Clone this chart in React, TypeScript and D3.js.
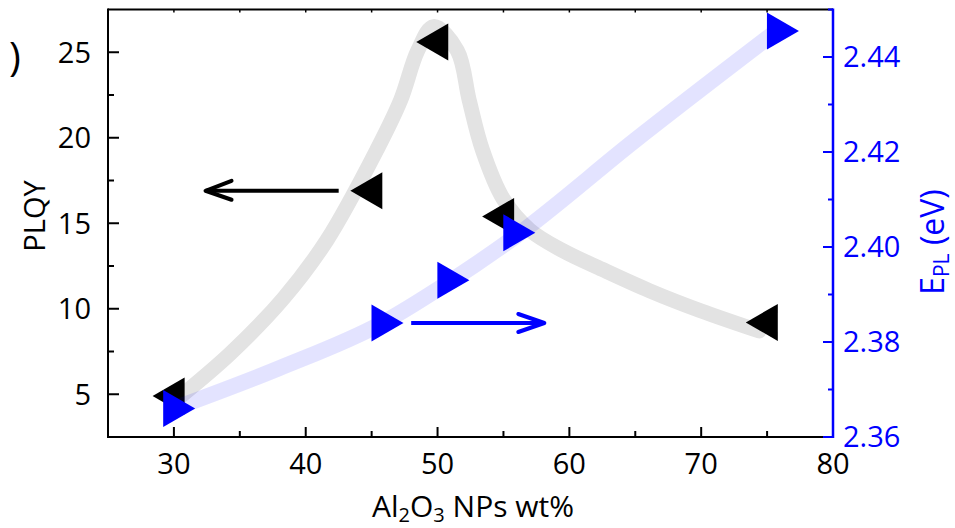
import React from 'react';
import * as d3 from 'd3';

// measured points
const wtPercent = [30, 45, 50, 55, 75];
const plqy = [4.9, 16.9, 25.6, 15.4, 9.2];
const eplWt = [30, 45.8, 50.8, 55.8, 75.8];
const epl = [2.366, 2.384, 2.393, 2.403, 2.4455];

// guide bands (hand-drawn in the original)
const plqyGuideX = [29.9, 34.3, 38.3, 41.6, 45.4, 47.2, 48.5, 49.7, 51.5, 52.4, 53.4, 55.0, 57.0, 59.5, 62.5, 66.1, 69.9, 74.4];
const plqyGuideY = [4.5, 7.4, 10.6, 14.0, 19.3, 22.2, 25.1, 26.5, 25.1, 22.2, 19.3, 16.4, 14.6, 13.4, 12.3, 11.05, 9.9, 8.7];
const eplGuideX = [30, 38, 45.8, 50.8, 55.8, 65, 75.5];
const eplGuideY = [2.366, 2.3745, 2.384, 2.3925, 2.402, 2.4225, 2.445];

const xTicks = [30, 40, 50, 60, 70, 80];
const xMinor = [35, 45, 55, 65, 75];
const xTop = [30, 35, 40, 45, 50, 55, 60, 65, 70, 75];
const yTicks = [5, 10, 15, 20, 25];
const yMinor = [7.5, 12.5, 17.5, 22.5];
const y2Ticks = [2.36, 2.38, 2.40, 2.42, 2.44];
const y2Minor = [2.37, 2.39, 2.41, 2.43];

const W = 955;
const H = 528;
const left = 108, right = 833, top = 9.5, bottom = 437;
const font = '"Open Sans", sans-serif';
const BLUE = '#0000ff';

const App: React.FC = () => {
  const x = d3.scaleLinear().domain([25, 80]).range([left, right]);
  const y = d3.scaleLinear().domain([2.5, 27.5]).range([bottom, top]);
  const y2 = d3.scaleLinear().domain([2.36, 2.45]).range([bottom, top]);

  const grayLine = d3.line<number>().x((_, i) => x(plqyGuideX[i])).y(d => y(d)).curve(d3.curveCatmullRom.alpha(0.5));
  const blueLine = d3.line<number>().x((_, i) => x(eplGuideX[i])).y(d => y2(d)).curve(d3.curveMonotoneX);

  const leftTri = 'M -21.3 0 L 10.7 -18.5 L 10.7 18.5 Z';
  const rightTri = 'M 21.3 0 L -10.7 -18.5 L -10.7 18.5 Z';

  // arrow guides
  const ba = { x1: x(42.5), x2: x(32.4), y: y(16.9) };
  const bl = { x1: x(48), x2: x(58.1), y: y2(2.384) };

  return (
    <svg width={W} height={H} style={{ position: 'absolute', left: 0, top: 0, background: 'white' }} fontFamily={font}>
      <text x={9} y={71} fontSize={40}>)</text>

      {/* bands */}
      <path d={grayLine(plqyGuideY) || ''} fill="none" stroke="#e3e3e3" strokeWidth={15} strokeLinecap="round" />
      {wtPercent.map((w, i) => (
        <path key={`b${i}`} d={leftTri} transform={`translate(${x(w)},${y(plqy[i])})`} fill="black" />
      ))}
      <path d={blueLine(eplGuideY) || ''} fill="none" stroke="rgba(0,0,255,0.11)" strokeWidth={16} strokeLinecap="round" />
      {eplWt.map((w, i) => (
        <path key={`e${i}`} d={rightTri} transform={`translate(${x(w)},${y2(epl[i])})`} fill={BLUE} />
      ))}

      {/* arrows */}
      <g stroke="black" strokeWidth={4} fill="none" strokeLinecap="round" strokeLinejoin="round">
        <line x1={ba.x1} y1={ba.y} x2={ba.x2} y2={ba.y} strokeLinecap="butt" />
        <polyline points={`${ba.x2 + 26},${ba.y - 10} ${ba.x2},${ba.y} ${ba.x2 + 26},${ba.y + 9}`} />
      </g>
      <g stroke={BLUE} strokeWidth={4} fill="none" strokeLinecap="round" strokeLinejoin="round">
        <line x1={bl.x1} y1={bl.y} x2={bl.x2} y2={bl.y} strokeLinecap="butt" />
        <polyline points={`${bl.x2 - 26},${bl.y - 9} ${bl.x2},${bl.y} ${bl.x2 - 26},${bl.y + 9}`} />
      </g>

      {/* frame */}
      <line x1={left} y1={top} x2={right} y2={top} stroke="black" strokeWidth={2} />
      <line x1={left} y1={bottom} x2={right} y2={bottom} stroke="black" strokeWidth={2} />
      <line x1={left} y1={top - 1} x2={left} y2={bottom + 1} stroke="black" strokeWidth={2} />
      {xTop.map(t => <line key={`t${t}`} x1={x(t)} x2={x(t)} y1={top} y2={top + 3} stroke="black" strokeWidth={1.5} />)}
      {xTicks.map(t => <line key={`x${t}`} x1={x(t)} x2={x(t)} y1={bottom} y2={bottom - 10} stroke="black" strokeWidth={2} />)}
      {xMinor.map(t => <line key={`xm${t}`} x1={x(t)} x2={x(t)} y1={bottom} y2={bottom - 6} stroke="black" strokeWidth={2} />)}
      {xTicks.map(t => (
        <text key={`xl${t}`} x={x(t)} y={474} fontSize={29} textAnchor="middle">{t}</text>
      ))}
      {yTicks.map(t => <line key={`y${t}`} x1={left} x2={left + 11} y1={y(t)} y2={y(t)} stroke="black" strokeWidth={2} />)}
      {yMinor.map(t => <line key={`ym${t}`} x1={left} x2={left + 6} y1={y(t)} y2={y(t)} stroke="black" strokeWidth={2} />)}
      {yTicks.map(t => (
        <text key={`yl${t}`} x={91} y={y(t)} dy="0.36em" fontSize={29} textAnchor="end">{t}</text>
      ))}

      {/* right axis */}
      <line x1={right} y1={top - 1} x2={right} y2={bottom + 1} stroke={BLUE} strokeWidth={2.5} />
      <line x1={right - 5} y1={top} x2={right} y2={top} stroke={BLUE} strokeWidth={2} />
      <line x1={right - 10} y1={bottom} x2={right} y2={bottom} stroke={BLUE} strokeWidth={2} />
      {y2Ticks.map(t => <line key={`r${t}`} x1={right} x2={right - 10} y1={y2(t)} y2={y2(t)} stroke={BLUE} strokeWidth={2} />)}
      {y2Minor.map(t => <line key={`rm${t}`} x1={right} x2={right - 5} y1={y2(t)} y2={y2(t)} stroke={BLUE} strokeWidth={2} />)}
      {y2Ticks.map(t => (
        <text key={`rl${t}`} x={843} y={y2(t)} dy="0.36em" fontSize={29} fill={BLUE}>{t.toFixed(2)}</text>
      ))}

      {/* titles */}
      <text transform="translate(45,216) rotate(-90)" fontSize={29} textAnchor="middle">PLQY</text>
      <text x={473} y={517} fontSize={30} textAnchor="middle">
        Al<tspan fontSize={20} dy={5}>2</tspan><tspan dy={-5}>O</tspan><tspan fontSize={20} dy={5}>3</tspan><tspan dy={-5}> NPs wt%</tspan>
      </text>
      <text transform="translate(944,242) rotate(-90)" fontSize={32} textAnchor="middle" fill={BLUE}>
        E<tspan fontSize={21} dy={5}>PL</tspan><tspan dy={-5}> (eV)</tspan>
      </text>
    </svg>
  );
};

export default App;
